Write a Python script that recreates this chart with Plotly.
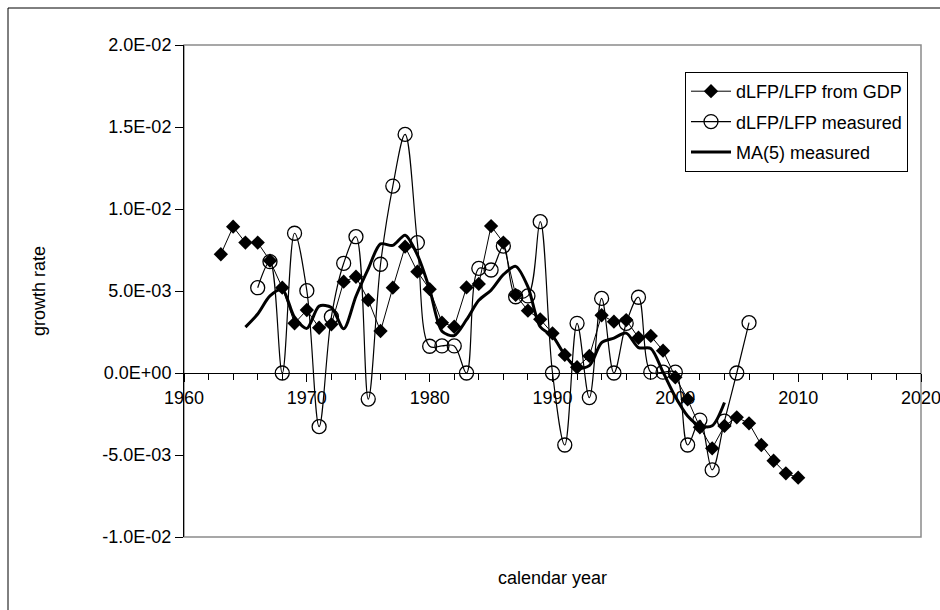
import plotly.graph_objects as go

# Growth rate of the labour force participation (LFP)
gdp_years = list(range(1963, 2011))
gdp_rate = [
    0.00724, 0.00892, 0.00795, 0.00795, 0.00685, 0.00520, 0.00303, 0.00384,
    0.00276, 0.00297, 0.00557, 0.00587, 0.00445, 0.00256, 0.00520, 0.00770,
    0.00618, 0.00511, 0.00307, 0.00282, 0.00522, 0.00543, 0.00896, 0.00795,
    0.00476, 0.00380, 0.00327, 0.00242, 0.00110, 0.00035, 0.00104, 0.00352,
    0.00313, 0.00323, 0.00215, 0.00226, 0.00136, -0.00026, -0.00160, -0.00331,
    -0.00459, -0.00323, -0.00270, -0.00307, -0.00439, -0.00535, -0.00612, -0.00638,
]

meas_years = list(range(1966, 2007))
meas_rate = [
    0.00520, 0.00679, 0.00000, 0.00852, 0.00502, -0.00327, 0.00343, 0.00669,
    0.00831, -0.00159, 0.00663, 0.01140, 0.01455, 0.00795, 0.00163, 0.00165,
    0.00165, 0.00000, 0.00638, 0.00628, 0.00774, 0.00465, 0.00470, 0.00923,
    0.00000, -0.00439, 0.00303, -0.00150, 0.00455, 0.00000, 0.00303, 0.00462,
    0.00005, 0.00005, 0.00005, -0.00439, -0.00287, -0.00591, -0.00293, 0.00000,
    0.00307,
]

ma_years = list(range(1965, 2005))
ma_rate = [
    0.00280, 0.00360, 0.00470, 0.00510, 0.00340, 0.00272, 0.00408, 0.00400,
    0.00270, 0.00468, 0.00635, 0.00787, 0.00778, 0.00840, 0.00720, 0.00510,
    0.00255, 0.00228, 0.00325, 0.00443, 0.00505, 0.00600, 0.00650, 0.00525,
    0.00282, 0.00225, 0.00110, 0.00030, 0.00045, 0.00185, 0.00213, 0.00243,
    0.00155, 0.00150, 0.00005, -0.00145, -0.00262, -0.00322, -0.00322, -0.00180,
]

y_ticks = [-0.01, -0.005, 0.0, 0.005, 0.01, 0.015, 0.02]
y_tick_labels = ["-1.0E-02", "-5.0E-03", "0.0E+00", "5.0E-03", "1.0E-02", "1.5E-02", "2.0E-02"]
x_ticks = [1960, 1970, 1980, 1990, 2000, 2010, 2020]

FONT = "Liberation Sans, Arial, sans-serif"
FS = 18
Y_MIN, Y_MAX = -0.01, 0.02
zero_pos = (0 - Y_MIN) / (Y_MAX - Y_MIN)

fig = go.Figure()

fig.add_trace(go.Scatter(
    x=gdp_years, y=gdp_rate, name="dLFP/LFP from GDP", legendgroup="a",
    mode="lines+markers",
    line=dict(color="black", width=1),
    marker=dict(symbol="diamond", size=11, color="black"),
))
fig.add_trace(go.Scatter(
    x=meas_years, y=meas_rate, name="dLFP/LFP measured", legendgroup="b",
    mode="lines+markers",
    line=dict(color="black", width=1.2, shape="spline", smoothing=1.0),
    marker=dict(symbol="circle-open", size=14, color="black", line=dict(width=1.3)),
))
fig.add_trace(go.Scatter(
    x=ma_years, y=ma_rate, name="MA(5) measured", legendgroup="c",
    mode="lines",
    line=dict(color="black", width=3, shape="spline", smoothing=0.8),
))

W, H = 940, 610
L, R, T, B = 184, 19, 45, 73
pw, ph = W - L - R, H - T - B

def px_x(p):
    return (p - L) / pw

def px_y(p):
    return (H - B - p) / ph

fig.update_layout(
    width=W, height=H,
    margin=dict(l=L, r=R, t=T, b=B, pad=0, autoexpand=False),
    paper_bgcolor="white", plot_bgcolor="white",
    font=dict(family=FONT, size=FS, color="black"),
    showlegend=True,
    legend=dict(
        x=px_x(685), y=px_y(72), xanchor="left", yanchor="top",
        bgcolor="white", bordercolor="black", borderwidth=1,
        font=dict(family=FONT, size=FS, color="black"),
        traceorder="grouped", tracegroupgap=4, itemwidth=40,
    ),
    xaxis=dict(
        range=[1960, 2020], tickmode="array", tickvals=x_ticks,
        ticks="outside", ticklen=8, tickwidth=1, tickcolor="black",
        showline=True, linecolor="black", linewidth=1,
        showgrid=False, zeroline=False,
        anchor="free", position=zero_pos,
        ticklabeloverflow="allow", automargin=False,
        tickfont=dict(family=FONT, size=FS, color="black"),
        minor=dict(tick0=1960, dtick=2, ticks="outside", ticklen=6,
                   tickcolor="black", tickwidth=1, showgrid=False),
    ),
    yaxis=dict(
        range=[Y_MIN, Y_MAX], tickmode="array", tickvals=y_ticks, ticktext=y_tick_labels,
        ticks="outside", ticklen=8, tickwidth=1, tickcolor="black",
        showline=True, linecolor="black", linewidth=1,
        showgrid=False, zeroline=False, automargin=False,
        tickfont=dict(family=FONT, size=FS, color="black"),
    ),
    shapes=[
        # plot-area frame
        dict(type="rect", xref="paper", yref="paper", x0=0, x1=1, y0=0, y1=1,
             line=dict(color="#8a8a8a", width=1.5), layer="below"),
        # chart-area frame
        dict(type="rect", xref="paper", yref="paper",
             x0=px_x(8), x1=px_x(950), y0=px_y(620), y1=px_y(8),
             line=dict(color="black", width=1), layer="below"),
    ],
    annotations=[
        dict(text="growth rate", xref="paper", yref="paper",
             x=px_x(39), y=0.5, textangle=-90, showarrow=False,
             xanchor="center", yanchor="middle",
             font=dict(family=FONT, size=FS, color="black")),
        dict(text="calendar year", xref="paper", yref="paper",
             x=0.5, y=px_y(578), showarrow=False,
             xanchor="center", yanchor="middle",
             font=dict(family=FONT, size=FS, color="black")),
    ],
)

fig.write_html("out.html")
